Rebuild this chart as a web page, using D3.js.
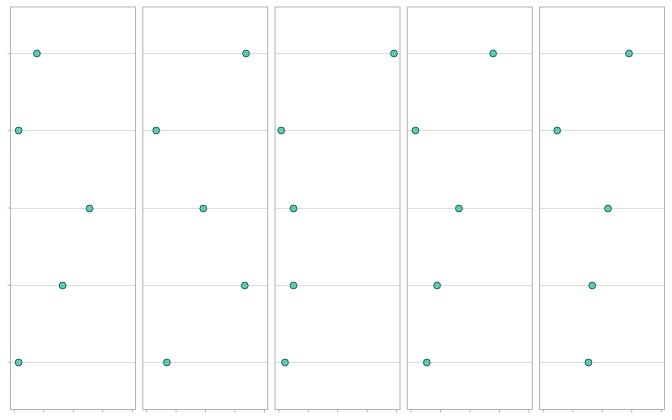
<!DOCTYPE html>
<html>
<head>
<meta charset="utf-8">
<script src="https://cdn.jsdelivr.net/npm/d3@7"></script>
<style>
  html, body { margin: 0; padding: 0; background: #fff; }
  svg { display: block; }
</style>
</head>
<body>
<script>
// ---- data ----
const rows = ["r1", "r2", "r3", "r4", "r5"];
const panels = ["p1", "p2", "p3", "p4", "p5"];
const xTicks = [0, 25, 50, 75, 100];
const panel1 = [19.6, 4.1, 64.2, 41.4, 4.1];
const panel2 = [84.8, 8.6, 48.5, 83.7, 17.7];
const panel3 = [98.1, 2.5, 12.9, 12.9, 5.7];
const panel4 = [70.0, 4.1, 41.0, 22.5, 13.8];
const panel5 = [73.1, 12.2, 55.3, 41.9, 38.7];
const panelValues = [panel1, panel2, panel3, panel4, panel5];

(function () {
  // ---- layout ----
  const W = 672, H = 420;
  const mLeft = 10.5, mTop = 7, mBottom = 409.5;
  const panelW = 125, step = 132.25;

  const svg = d3.select("body").append("svg").attr("width", W).attr("height", H);

  const fx = d3.scaleBand().domain(panels).range([mLeft, mLeft + step * 5]);
  const x = d3.scaleLinear().domain([-2.8, 103.2]).range([0, panelW]);
  const y = d3.scalePoint().domain(rows).range([mTop, mBottom - 1.5]).padding(0.6);

  const border = "#b3b3b3";
  const grid = "#dcdcdc";

  panels.forEach((p, i) => {
    const g = svg.append("g").attr("transform", `translate(${fx(p)},0)`);
    g.selectAll("line.grid").data(rows).join("line")
      .attr("class", "grid")
      .attr("x1", 0).attr("x2", panelW)
      .attr("y1", d => Math.round(y(d)) + 0.5).attr("y2", d => Math.round(y(d)) + 0.5)
      .attr("stroke", grid).attr("stroke-width", 1);
    g.append("rect")
      .attr("x", 0).attr("y", mTop).attr("width", panelW).attr("height", mBottom - mTop)
      .attr("fill", "none").attr("stroke", border).attr("stroke-width", 1);
    const ax = g.append("g").attr("transform", `translate(0,${mBottom})`)
      .call(d3.axisBottom(x).tickValues(xTicks).tickSize(3).tickFormat(""));
    ax.select(".domain").remove();
    ax.selectAll(".tick line").attr("stroke", border);
    const vals = panelValues[i];
    g.selectAll("circle").data(rows.map((r, j) => ({ r, v: vals[j] }))).join("circle")
      .attr("cx", d => x(d.v))
      .attr("cy", d => Math.round(y(d.r)) + 0.5)
      .attr("r", 3.4)
      .attr("fill", "#6ac6b3")
      .attr("stroke", "#0b6b5d")
      .attr("stroke-width", 1);
  });

  const ay = svg.append("g").attr("transform", `translate(${mLeft},0)`)
    .call(d3.axisLeft(y).tickSize(3).tickFormat(""));
  ay.select(".domain").remove();
  ay.selectAll(".tick line").attr("stroke", border);
})();
</script>
</body>
</html>
